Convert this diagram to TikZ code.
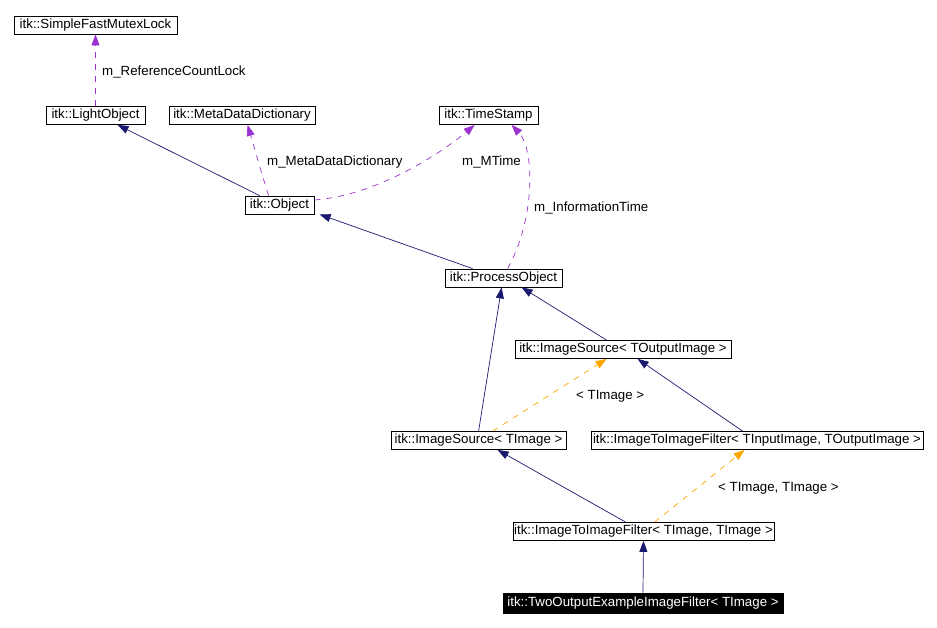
\documentclass[tikz,border=0pt]{standalone}
\usepackage{fontspec}
\setmainfont{Liberation Sans}
\usetikzlibrary{arrows.meta}
\definecolor{navyline}{HTML}{191970}
\definecolor{purpline}{HTML}{9A32CD}
\definecolor{orangeline}{HTML}{FFA500}
\begin{document}
\begin{tikzpicture}[x=1pt,y=-1pt,
  cls/.style={draw=black, fill=white, line width=0.8pt, inner sep=0pt,
    minimum height=18pt, font=\fontsize{13.3}{16}\selectfont},
  inh/.style={draw=navyline, line width=0.7pt,
    -{Triangle[length=11pt,width=8pt]}},
  usage/.style={draw=purpline, line width=0.7pt, dash pattern=on 6pt off 6pt,
    -{Triangle[length=11pt,width=8pt]}},
  tmpl/.style={draw=orangeline, line width=0.7pt, dash pattern=on 6pt off 6pt,
    -{Triangle[length=11pt,width=8pt]}},
  lbl/.style={anchor=base west, inner sep=0pt, font=\fontsize{13.3}{16}\selectfont}
]
\useasboundingbox (0,0) rectangle (937,627);

% classes
\node[cls, minimum width=163pt] (mutex) at (95.5,25) {itk::SimpleFastMutexLock};
\node[cls, minimum width=99pt] (light) at (95.5,115.5) {itk::LightObject};
\node[cls, minimum width=146pt] (mdd) at (242,115.5) {itk::MetaDataDictionary};
\node[cls, minimum width=99pt] (ts) at (488.5,115.5) {itk::TimeStamp};
\node[cls, minimum width=69pt] (obj) at (279.5,205) {itk::Object};
\node[cls, minimum width=117pt] (proc) at (503.5,278) {itk::ProcessObject};
\node[cls, minimum width=216pt] (isto) at (623,349.5) {itk::ImageSource< TOutputImage >};
\node[cls, minimum width=175pt] (ist) at (478.5,440.5) {itk::ImageSource< TImage >};
\node[cls, minimum width=332pt] (itifio) at (757,440.5) {itk::ImageToImageFilter< TInputImage, TOutputImage >};
\node[cls, minimum width=261pt] (itiftt) at (643.5,531.5) {itk::ImageToImageFilter< TImage, TImage >};
\node[cls, minimum width=280pt, minimum height=20pt, fill=black, text=white] (two) at (643,603) {itk::TwoOutputExampleImageFilter< TImage >};

% inheritance
\draw[inh] ([xshift=15pt]obj.north west) -- ([xshift=72pt]light.south west);
\draw[inh] ([xshift=28pt]proc.north west) -- ([xshift=75pt]obj.south west);
\draw[inh] ([xshift=88pt]ist.north west) -- ([xshift=57pt]proc.south west);
\draw[inh] ([xshift=92pt]isto.north west) -- ([xshift=77pt]proc.south west);
\draw[inh] ([xshift=152pt]itifio.north west) -- ([xshift=123pt]isto.south west);
\draw[inh] ([xshift=113pt]itiftt.north west) -- ([xshift=107pt]ist.south west);
\draw[inh] (two.north) -- (itiftt.south);

% usage
\draw[usage] (light.north) -- (mutex.south);
\node[lbl] (lref) at (102,75.5) {m\_ReferenceCountLock};
\draw[usage] ([xshift=24pt]obj.north west) .. controls (262,175) and (255,150) .. ([xshift=79pt]mdd.south west);
\node[lbl] (lmdd) at (267,165) {m\_MetaDataDictionary};
\draw[usage] ([yshift=5pt]obj.east) .. controls (380,195) and (445,150) .. ([xshift=36pt]ts.south west);
\node[lbl] (lmt) at (462,165) {m\_MTime};
\draw[usage] ([xshift=63pt]proc.north west) .. controls (535,220) and (535,150) .. ([xshift=73pt]ts.south west);
\node[lbl] (lit) at (534,211) {m\_InformationTime};

% template instantiation
\draw[tmpl] ([xshift=102pt]ist.north west) -- ([xshift=92pt]isto.south west);
\node[lbl] (lt1) at (576,399.5) {< TImage >};
\draw[tmpl] ([xshift=142pt]itiftt.north west) -- ([xshift=154pt]itifio.south west);
\node[lbl] (lt2) at (718,491) {< TImage, TImage >};
\end{tikzpicture}
\end{document}
